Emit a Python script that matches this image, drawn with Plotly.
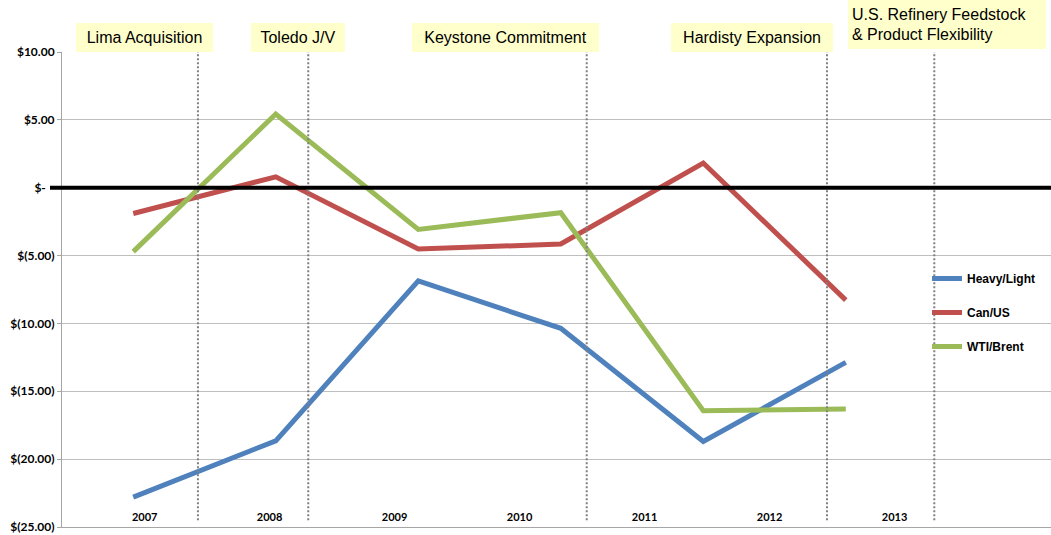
import plotly.graph_objects as go

# ---------------- data ----------------
years = ["2007", "2008", "2009", "2010", "2011", "2012"]
axis_years = ["2007", "2008", "2009", "2010", "2011", "2012", "2013"]
heavy_light = [-22.8, -18.65, -6.87, -10.36, -18.7, -12.87]
can_us = [-1.9, 0.8, -4.52, -4.15, 1.82, -8.28]
wti_brent = [-4.71, 5.43, -3.07, -1.84, -16.43, -16.31]
y_ticks = [10, 5, 0, -5, -10, -15, -20, -25]
y_tick_text = ["$10.00", "$5.00", "$-\u00a0\u00a0\u00a0", "$(5.00)", "$(10.00)", "$(15.00)", "$(20.00)", "$(25.00)"]
events = ["Lima Acquisition", "Toledo J/V", "Keystone Commitment", "Hardisty Expansion",
          "U.S. Refinery Feedstock<br>& Product Flexibility"]
event_marks = [0.454, 1.228, 3.182, 4.868, 5.621]   # divider positions (category units)

# ---------------- layout constants ----------------
W, H = 1051, 535
L, R, T, B = 62, 1051, 52, 527


def pxx(px):
    return (px - L) / (R - L)


def pyy(py):
    return (B - py) / (B - T)


colors = ["#4F81BD", "#C0504D", "#9BBB59"]
names = ["Heavy/Light", "Can/US", "WTI/Brent"]
series = [heavy_light, can_us, wti_brent]
xs = list(range(len(years)))

fig = go.Figure()
for i, (nm, vals, c) in enumerate(zip(names, series, colors)):
    fig.add_trace(go.Scatter(
        x=xs, y=vals, mode="lines", name=nm, legendgroup=nm,
        line=dict(color=c, width=5), text=years,
        hovertemplate="%{text}: %{y:.2f}<extra>" + nm + "</extra>"))

shapes = []
for k, xm in enumerate(event_marks):
    shapes.append(dict(type="line", xref="x", yref="y", x0=xm, x1=xm, y0=-24.5,
                       y1=10.2 if k == len(event_marks) - 1 else 10,
                       line=dict(color="#808080", width=2, dash="2px,2px"), layer="above"))
shapes.append(dict(type="line", xref="paper", yref="y", x0=pxx(50), x1=1, y0=0, y1=0,
                   line=dict(color="black", width=4), layer="above"))

# event annotation boxes: (center px, center py, width, height)
boxes = [(144.5, 37.5, 129, 21), (298, 37.5, 86, 21), (505.5, 37.5, 179, 21),
         (752, 37.5, 154, 21), (947, 24.5, 190, 41)]
annotations = []
for txt, (cx, cy, bw, bh) in zip(events, boxes):
    annotations.append(dict(
        text=txt, xref="paper", yref="paper", x=pxx(cx), y=pyy(cy),
        xanchor="center", yanchor="middle", showarrow=False,
        width=bw, height=bh, align="left" if "<br>" in txt else "center",
        bgcolor="#FFFFCC", borderpad=4, borderwidth=0,
        font=dict(family="Arial, Liberation Sans, sans-serif", size=16, color="black")))

year_pos = [0.08 + 0.877 * i for i in range(len(axis_years))]

fig.update_layout(
    width=W, height=H,
    margin=dict(l=L, r=W - R, t=T, b=H - B, autoexpand=False),
    paper_bgcolor="white", plot_bgcolor="white",
    showlegend=True,
    legend=dict(x=pxx(927), y=pyy(264), xanchor="left", yanchor="top",
                bgcolor="rgba(0,0,0,0)", tracegroupgap=15,
                font=dict(family="Arial, Liberation Sans, sans-serif", size=12, color="black",
                          weight="bold")),
    xaxis=dict(range=[-0.5, 6.44], showgrid=False, zeroline=False, automargin=False,
               showline=True, linecolor="#A6A6A6", linewidth=1,
               tickvals=year_pos, ticktext=axis_years, ticks="",
               ticklabelposition="outside", ticklabelstandoff=-20, ticklabeloverflow="allow",
               tickfont=dict(family="Lato, sans-serif", size=11, color="black", weight="bold")),
    yaxis=dict(range=[-25, 10], tickvals=y_ticks, ticktext=y_tick_text, automargin=False,
               showgrid=True, gridcolor="#BFBFBF", gridwidth=1, zeroline=False,
               showline=True, linecolor="#A6A6A6", linewidth=1,
               ticks="outside", ticklen=4, tickcolor="#A6A6A6", ticklabeloverflow="allow",
               tickfont=dict(family="Lato, sans-serif", size=12, color="black", weight="bold")),
    shapes=shapes, annotations=annotations,
)

fig.write_html("out.html", config={"displayModeBar": False},
               post_script="document.body.style.margin='0';")
